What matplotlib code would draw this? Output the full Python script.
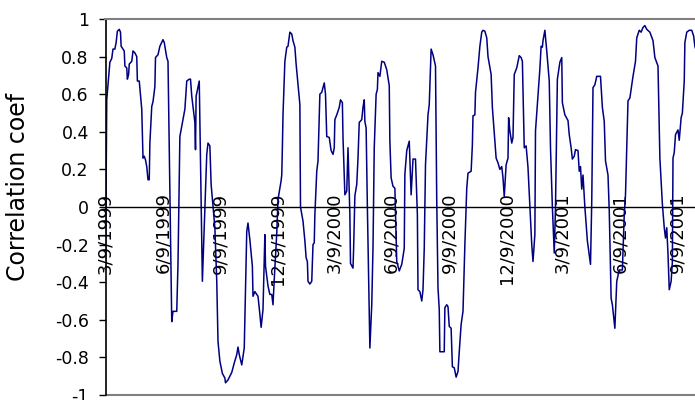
import numpy as np
import pandas as pd
import matplotlib

matplotlib.use("Agg")
import matplotlib.pyplot as plt
import matplotlib.transforms as mtransforms

plt.rcParams["axes.unicode_minus"] = False

# rolling correlation, day offsets counted from the first observation
start_date = "1999-03-09"
days = [
    0, 2, 7, 10, 12, 15, 17, 19, 22, 24, 25, 30, 31, 34, 35, 37, 38, 42, 44, 47,
    50, 51, 54, 58, 60, 62, 64, 66, 68, 70, 71, 74, 76, 79, 80, 84, 87, 92, 94, 98,
    100, 106, 108, 114, 116, 119, 124, 127, 130, 134, 136, 138, 140, 143, 144, 145, 150, 155, 162, 164,
    167, 169, 175, 178, 180, 183, 187, 191, 192, 196, 202, 206, 210, 212, 214, 218, 222, 226, 228, 231,
    235, 236, 239, 244, 247, 249, 252, 255, 256, 260, 263, 266, 268, 270, 274, 276, 281, 282, 283, 284,
    287, 290, 292, 295, 298, 300, 303, 305, 308, 311, 312, 316, 319, 321, 323, 324, 327, 330, 332, 334,
    335, 338, 340, 343, 346, 350, 352, 354, 358, 361, 364, 366, 367, 370, 372, 374, 376, 379, 380, 382,
    383, 386, 388, 391, 392, 396, 397, 399, 402, 404, 406, 410, 412, 414, 415, 417, 419, 423, 426, 428,
    430, 433, 435, 436, 439, 442, 446, 450, 454, 455, 457, 460, 463, 466, 470, 474, 478, 479, 482, 486,
    489, 492, 496, 499, 500, 503, 506, 508, 510, 512, 516, 518, 521, 524, 528, 530, 532, 534, 535, 542,
    543, 546, 548, 550, 553, 555, 558, 561, 564, 566, 569, 572, 575, 578, 580, 585, 587, 588, 591, 592,
    596, 599, 602, 604, 607, 610, 612, 617, 619, 622, 625, 628, 631, 634, 636, 638, 641, 644, 645, 647,
    650, 652, 654, 658, 662, 665, 667, 670, 673, 676, 679, 682, 684, 687, 688, 692, 694, 695, 697, 699,
    700, 703, 706, 710, 712, 715, 718, 720, 723, 727, 730, 731, 735, 740, 742, 745, 747, 750, 752, 756,
    758, 760, 762, 764, 767, 771, 776, 778, 780, 783, 786, 792, 795, 798, 800, 804, 806, 809, 811, 815,
    818, 822, 827, 830, 832, 836, 839, 844, 848, 850, 854, 857, 860, 863, 866, 871, 876, 879, 884, 887,
    891, 894, 896, 898, 900, 902, 905, 907, 908, 910, 912, 916, 918, 921, 923, 926, 927, 930, 934, 938,
    941, 943, 948,
]
corr = [
    -0.32, 0.57, 0.77, 0.79, 0.84, 0.84, 0.875, 0.935, 0.945, 0.93, 0.855, 0.83, 0.75, 0.74, 0.68, 0.705, 0.76, 0.775, 0.83, 0.82,
    0.80, 0.67, 0.67, 0.52, 0.26, 0.27, 0.25, 0.215, 0.145, 0.145, 0.34, 0.535, 0.56, 0.64, 0.795, 0.81, 0.855, 0.89, 0.875, 0.795,
    0.775, -0.61, -0.555, -0.555, -0.30, 0.375, 0.465, 0.52, 0.67, 0.68, 0.68, 0.59, 0.535, 0.45, 0.305, 0.59, 0.67, -0.395, 0.28, 0.34,
    0.325, 0.12, -0.11, -0.395, -0.715, -0.82, -0.885, -0.91, -0.935, -0.92, -0.88, -0.83, -0.785, -0.745, -0.785, -0.84, -0.75, -0.13, -0.085, -0.175,
    -0.315, -0.475, -0.45, -0.475, -0.57, -0.64, -0.545, -0.147, -0.315, -0.42, -0.465, -0.465, -0.52, -0.385, -0.14, 0.04, 0.14, 0.17, 0.315, 0.49,
    0.775, 0.85, 0.855, 0.93, 0.92, 0.885, 0.85, 0.76, 0.65, 0.545, 0.0, -0.075, -0.18, -0.27, -0.29, -0.395, -0.41, -0.395, -0.2, -0.19,
    -0.04, 0.19, 0.245, 0.6, 0.61, 0.66, 0.6, 0.375, 0.37, 0.3, 0.28, 0.315, 0.465, 0.49, 0.51, 0.53, 0.57, 0.555, 0.37, 0.17,
    0.065, 0.085, 0.315, -0.04, -0.3, -0.325, -0.22, 0.06, 0.12, 0.26, 0.45, 0.465, 0.53, 0.57, 0.455, 0.42, 0.0, -0.75, -0.52, -0.215,
    0.315, 0.6, 0.625, 0.715, 0.695, 0.775, 0.77, 0.73, 0.645, 0.35, 0.155, 0.11, 0.1, -0.29, -0.34, -0.305, -0.22, 0.175, 0.3, 0.35,
    0.065, 0.255, 0.255, -0.04, -0.44, -0.45, -0.5, -0.44, -0.22, 0.225, 0.49, 0.545, 0.84, 0.81, 0.75, 0.03, -0.43, -0.545, -0.77, -0.77,
    -0.535, -0.52, -0.53, -0.635, -0.645, -0.85, -0.855, -0.905, -0.875, -0.77, -0.625, -0.555, -0.2, 0.1, 0.18, 0.19, 0.33, 0.485, 0.49, 0.61,
    0.74, 0.855, 0.93, 0.94, 0.935, 0.9, 0.8, 0.705, 0.53, 0.395, 0.26, 0.235, 0.2, 0.215, 0.155, 0.055, 0.225, 0.26, 0.475, 0.405,
    0.34, 0.37, 0.705, 0.74, 0.805, 0.795, 0.775, 0.315, 0.325, 0.21, 0.0, -0.2, -0.29, -0.145, 0.405, 0.59, 0.68, 0.735, 0.855, 0.85,
    0.885, 0.94, 0.83, 0.67, 0.315, 0.0, -0.245, 0.0, 0.68, 0.77, 0.795, 0.555, 0.49, 0.46, 0.385, 0.315, 0.255, 0.27, 0.305, 0.3,
    0.19, 0.215, 0.095, 0.17, 0.0, -0.18, -0.305, 0.03, 0.635, 0.65, 0.695, 0.695, 0.53, 0.455, 0.245, 0.17, -0.02, -0.485, -0.52, -0.645,
    -0.395, -0.335, -0.335, -0.04, 0.065, 0.565, 0.58, 0.695, 0.775, 0.9, 0.94, 0.93, 0.955, 0.965, 0.945, 0.93, 0.885, 0.795, 0.75, 0.26,
    0.015, -0.11, -0.165, -0.11, -0.25, -0.44, -0.395, -0.29, 0.26, 0.29, 0.385, 0.41, 0.355, 0.475, 0.5, 0.67, 0.875, 0.93, 0.94, 0.94,
    0.91, 0.855, 0.80,
]

x_tick_labels = [
    "3/9/1999", "6/9/1999", "9/9/1999", "12/9/1999", "3/9/2000", "6/9/2000",
    "9/9/2000", "12/9/2000", "3/9/2001", "6/9/2001", "9/9/2001",
]
y_ticks = [1, 0.8, 0.6, 0.4, 0.2, 0, -0.2, -0.4, -0.6, -0.8, -1]
y_tick_labels = ["1", "0.8", "0.6", "0.4", "0.2", "0", "-0.2", "-0.4", "-0.6", "-0.8", "-1"]
y_label = "Correlation coef"

dates = pd.Timestamp(start_date) + pd.to_timedelta(days, unit="D")
tick_dates = pd.to_datetime(x_tick_labels, format="%m/%d/%Y")

fig = plt.figure(figsize=(6.95, 4.0), dpi=100)
# axes run past the right edge of the picture, like the cropped original
ax = fig.add_axes([105.5 / 695, 5 / 400, 600 / 695, 376 / 400])

ax.plot(dates, corr, color="#000080", linewidth=1.1)

ax.set_xlim(pd.Timestamp(start_date), pd.Timestamp(start_date) + pd.Timedelta(days=960))
ax.set_ylim(-1, 1)

ax.set_yticks(y_ticks)
ax.set_yticklabels(y_tick_labels)
ax.tick_params(axis="y", direction="out", length=5, width=1, pad=7, colors="black", labelsize=12.5)

ax.set_xticks(tick_dates)
ax.set_xticklabels(x_tick_labels)
ax.tick_params(axis="x", length=0, pad=-10.5, labelrotation=90, labelsize=13)
shift = mtransforms.ScaledTranslation(-0.085, 0, fig.dpi_scale_trans)
for lbl in ax.get_xticklabels():
    lbl.set_transform(lbl.get_transform() + shift)

ax.spines["bottom"].set_position(("data", 0))
ax.spines["bottom"].set_color("black")
ax.spines["bottom"].set_linewidth(1.0)
ax.spines["left"].set_color("black")
ax.spines["left"].set_linewidth(1.2)
ax.spines["top"].set_color("#808080")
ax.spines["top"].set_linewidth(1.5)
ax.spines["right"].set_visible(False)
ax.axhline(-1, color="#808080", linewidth=1.5, clip_on=False)

fig.text(18 / 695, 1 - 187 / 400, y_label, rotation=90, ha="center", va="center", fontsize=17)

fig.savefig("out.png", dpi=100)
plt.close(fig)
